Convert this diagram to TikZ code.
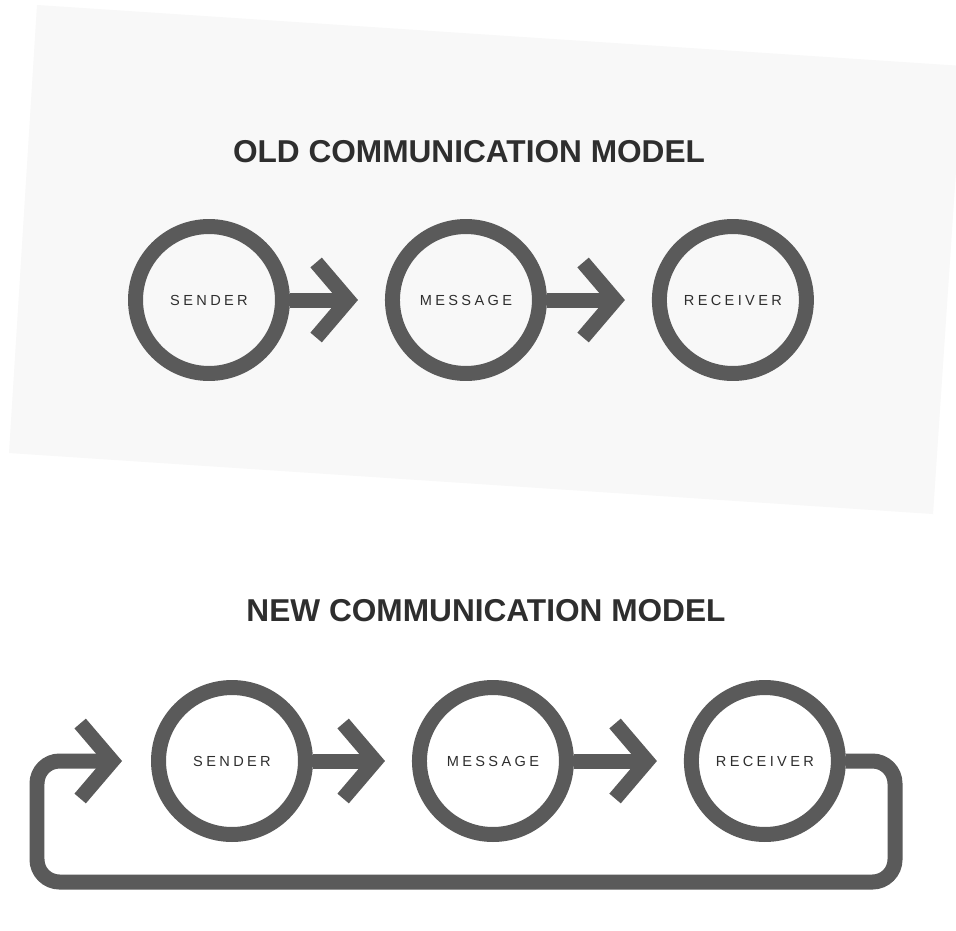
\documentclass[tikz,border=0pt]{standalone}
\usepackage{fontspec}
\setmainfont{Liberation Sans}
\newfontfamily\spaced[LetterSpace=23]{Liberation Sans}
\usetikzlibrary{positioning,arrows.meta}
\definecolor{ink}{HTML}{5A5A5A}
\definecolor{lettering}{HTML}{2E2E2E}
\definecolor{paper}{HTML}{F8F8F8}
\tikzstyle{party} = [
    draw=ink,
    circle,
    line width=0.3cm,
    minimum size=2.94cm,
    inner sep=0pt,
    text=lettering,
    font=\spaced\fontsize{8.3}{10}\selectfont]
\tikzstyle{flow} = [
    draw=ink,
    line width=0.3cm,
    line join=miter,
    shorten >=0.54cm,
    -{Straight Barb[length=0.64cm, width=1.5cm]}]
\tikzstyle{heading} = [
    text=lettering,
    font=\bfseries\fontsize{18}{22}\selectfont]

\begin{document}
\begin{tikzpicture}[x=0.02cm, y=-0.02cm]
        \useasboundingbox[fill=white] (0,0) rectangle (956,930);
        % sheet behind the old model
        \fill[paper] (37,5) -- (963,66) -- (933,514) -- (9,453) -- cycle;

        % old model
        \node[heading] (old) at (469,152) {OLD COMMUNICATION MODEL};
        \node[party] (S1) at (209,300) {SENDER};
        \node[party] (M1) [right = 1.9cm of S1] {MESSAGE};
        \node[party] (R1) [right = 2.1cm of M1] {RECEIVER};

        \draw[flow] (S1.east) -- (M1.west);
        \draw[flow] (M1.east) -- (R1.west);

        % new model
        \node[heading] (new) at (486,611) {NEW COMMUNICATION MODEL};
        \node[party] (S2) at (232,761) {SENDER};
        \node[party] (M2) [right = 1.98cm of S2] {MESSAGE};
        \node[party] (R2) [right = 2.2cm of M2] {RECEIVER};

        \draw[flow] (S2.east) -- (M2.west);
        \draw[flow] (M2.east) -- (R2.west);

        % feedback loop back to the sender
        \coordinate (back) at (895,882);
        \coordinate (front) at (37,882);
        \draw[flow, rounded corners=0.45cm, shorten >=0.58cm]
            (R2.east) -| (back) -- (front) |- (S2.west);
    \end{tikzpicture}
\end{document}
